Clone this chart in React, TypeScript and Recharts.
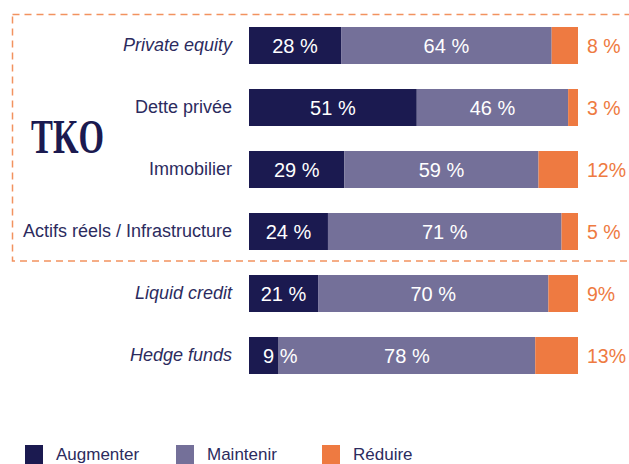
import React from "react";
import { BarChart, Bar, XAxis, YAxis, LabelList } from "recharts";

const categories = [
  "Private equity",
  "Dette privée",
  "Immobilier",
  "Actifs réels / Infrastructure",
  "Liquid credit",
  "Hedge funds",
];
const italicCategories = ["Private equity", "Liquid credit", "Hedge funds"];

const augmenter = [28, 51, 29, 24, 21, 9];
const maintenir = [64, 46, 59, 71, 70, 78];
const reduire = [8, 3, 12, 5, 9, 13];
const reduireLabels = ["8 %", "3 %", "12%", "5 %", "9%", "13%"];

const NAVY = "#1B1A50";
const PURPLE = "#747099";
const ORANGE = "#EE7A41";
const TEXT = "#2C2B5E";
const FONT = "'Liberation Sans', Arial, sans-serif";

const data = categories.map((name, i) => ({
  name,
  aug: augmenter[i],
  main: maintenir[i],
  red: reduire[i],
}));

const legendItems = [
  { label: "Augmenter", color: NAVY },
  { label: "Maintenir", color: PURPLE },
  { label: "Réduire", color: ORANGE },
];

function CategoryTick(props: any) {
  const { y, payload } = props;
  const italic = italicCategories.includes(payload.value);
  return (
    <text
      x={232}
      y={y + 6}
      textAnchor="end"
      fill={TEXT}
      fontSize={18}
      fontFamily={FONT}
      fontStyle={italic ? "italic" : "normal"}
    >
      {payload.value}
    </text>
  );
}

function InsideLabel(props: any) {
  const { x, y, width, height, value } = props;
  const narrow = width < 40;
  return (
    <text
      x={narrow ? x + 14 : x + width / 2}
      y={y + height / 2 + 7}
      textAnchor={narrow ? "start" : "middle"}
      fill="#FFFFFF"
      fontSize={20}
      fontFamily={FONT}
    >
      {`${value} %`}
    </text>
  );
}

function OutsideLabel(props: any) {
  const { x, y, width, height, index } = props;
  return (
    <text
      x={x + width + 9}
      y={y + height / 2 + 7}
      textAnchor="start"
      fill={ORANGE}
      fontSize={19.5}
      fontFamily={FONT}
    >
      {reduireLabels[index]}
    </text>
  );
}

export default function App() {
  return (
    <div
      style={{
        position: "absolute",
        left: 0,
        top: 0,
        width: 629,
        height: 464,
        overflow: "hidden",
        background: "#fff",
        fontFamily: FONT,
      }}
    >
      <svg
        width={629}
        height={464}
        style={{ position: "absolute", left: 0, top: 0 }}
      >
        <rect
          x={12.5}
          y={14.5}
          width={640}
          height={246.5}
          fill="none"
          stroke="#F2925F"
          strokeWidth={1.5}
          strokeDasharray="7 5"
        />
        <text
          x={31}
          y={153}
          fill={NAVY}
          fontSize={49}
          fontWeight="bold"
          fontFamily="'Liberation Serif', 'DejaVu Serif', serif"
          textLength={73}
          lengthAdjust="spacingAndGlyphs"
        >
          TKO
        </text>
      </svg>

      <div style={{ position: "absolute", left: 0, top: 0 }}>
        <BarChart
          width={629}
          height={464}
          data={data}
          layout="vertical"
          margin={{ top: 14, right: 51, bottom: 78, left: 0 }}
          barSize={37}
        >
          <XAxis type="number" domain={[0, 100]} hide />
          <YAxis
            type="category"
            dataKey="name"
            width={249}
            axisLine={false}
            tickLine={false}
            tick={<CategoryTick />}
            interval={0}
          />
          <Bar dataKey="aug" stackId="s" fill={NAVY} isAnimationActive={false}>
            <LabelList dataKey="aug" content={<InsideLabel />} />
          </Bar>
          <Bar dataKey="main" stackId="s" fill={PURPLE} isAnimationActive={false}>
            <LabelList dataKey="main" content={<InsideLabel />} />
          </Bar>
          <Bar dataKey="red" stackId="s" fill={ORANGE} isAnimationActive={false}>
            <LabelList dataKey="red" content={<OutsideLabel />} />
          </Bar>
        </BarChart>
      </div>

      {legendItems.map((item, i) => (
        <div
          key={item.label}
          style={{
            position: "absolute",
            left: [25, 176, 322][i],
            top: 445,
            display: "flex",
            alignItems: "flex-start",
          }}
        >
          <span
            style={{
              width: 18,
              height: 20,
              background: item.color,
              display: "inline-block",
            }}
          />
          <span
            style={{
              marginLeft: 13,
              fontSize: 17,
              color: TEXT,
              lineHeight: "20px",
            }}
          >
            {item.label}
          </span>
        </div>
      ))}
    </div>
  );
}
